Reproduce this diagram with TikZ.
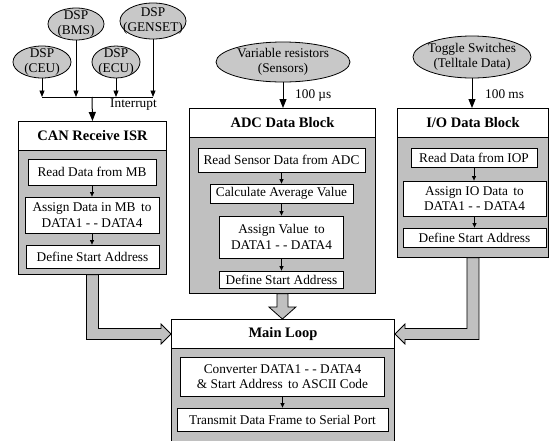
\documentclass[tikz,border=0pt]{standalone}
\usepackage{fontspec}
\setmainfont{Liberation Serif}
\usetikzlibrary{arrows.meta,calc,shapes.geometric}
\definecolor{bodygray}{RGB}{192,192,192}
\definecolor{ellgray}{RGB}{200,200,200}
\newcommand{\txtfont}{\fontsize{13.3}{15.5}\selectfont}
\newcommand{\ttlfont}{\fontsize{14.5}{16}\selectfont\bfseries}
\begin{document}
\begin{tikzpicture}[x=1pt,y=-1pt,
  box/.style={draw, fill=white, line width=0.8pt, inner sep=0pt, align=center, font=\txtfont},
  ttlbox/.style={draw, fill=white, line width=1pt, inner sep=0pt, align=center, font=\ttlfont, anchor=north west},
  body/.style={draw, fill=bodygray, line width=0.8pt, inner sep=0pt, anchor=north west},
  ell/.style={draw, ellipse, fill=ellgray, line width=0.8pt, inner sep=0pt},
  lbl/.style={font=\txtfont, inner sep=0pt, align=center},
  bigarr/.style={line width=1pt, -{Triangle[length=9pt,width=7pt]}},
  midarr/.style={line width=0.8pt, -{Triangle[length=6.5pt,width=5pt]}},
  smallarr/.style={line width=0.7pt, -{Triangle[length=4.5pt,width=4pt]}},
  garrow/.style={draw, fill=bodygray, line width=0.8pt, line join=miter},
]
\clip (0,0) rectangle (552,440);

% ---------- DSP ellipses ----------
\node[ell, minimum width=58pt, minimum height=32pt] (ceu) at (42,62) {};
\node[lbl] (ceut) at (ceu) {DSP\\(CEU)};
\node[ell, minimum width=56pt, minimum height=32pt] (bms) at (76,24) {};
\node[lbl] (bmst) at (bms) {DSP\\(BMS)};
\node[ell, minimum width=48pt, minimum height=32pt] (ecu) at (116,62) {};
\node[lbl] (ecut) at (ecu) {DSP\\(ECU)};
\node[ell, minimum width=66pt, minimum height=36pt] (genset) at (153,21) {};
\node[lbl] (gensett) at (genset) {DSP\\(GENSET)};

\coordinate (busj) at (92,97);
\draw[line width=0.8pt] (ceu.south |- busj) -- (genset.south |- busj);
\draw[midarr] (ceu.south) -- (ceu.south |- busj);
\draw[midarr] (bms.south) -- (bms.south |- busj);
\draw[midarr] (ecu.south) -- (ecu.south |- busj);
\draw[midarr] (genset.south) -- (genset.south |- busj);

% ---------- CAN Receive ISR ----------
\node[ttlbox, minimum width=148pt, minimum height=29pt] (cantitle) at (18,121) {CAN Receive ISR};
\node[body, minimum width=148pt, minimum height=124pt] (canbody) at (18,150) {};
\node[box, minimum width=128pt, minimum height=26pt] (canread) at (92,172) {Read Data from MB};
\node[box, minimum width=134pt, minimum height=36pt] (canassign) at (92,215) {Assign Data in MB\, to\\DATA1 - - DATA4};
\node[box, minimum width=133pt, minimum height=23pt] (candef) at (92.5,256.5) {Define Start Address};
\draw[smallarr] (canread.south) -- (canread.south |- canassign.north);
\draw[smallarr] (canassign.south) -- (canassign.south |- candef.north);

\draw[bigarr] (busj) -- (cantitle.north);
\node[lbl, anchor=west] (intlbl) at (110,105) {Interrupt};

% ---------- ADC Data Block ----------
\node[ell, minimum width=134pt, minimum height=40pt] (varres) at (283,62) {};
\node[lbl] (varrest) at (varres) {Variable resistors\\(Sensors)};
\node[ttlbox, minimum width=186pt, minimum height=29pt] (adctitle) at (189,108) {ADC Data Block};
\node[body, minimum width=186pt, minimum height=156pt] (adcbody) at (189,137) {};
\node[box, minimum width=167pt, minimum height=24pt] (adcread) at (281.5,160) {Read Sensor Data from ADC};
\node[box, minimum width=143pt, minimum height=19pt] (adccalc) at (281.5,193.5) {Calculate Average Value};
\node[box, minimum width=124pt, minimum height=42pt] (adcassign) at (281.5,237) {Assign Value\, to\\DATA1 - - DATA4};
\node[box, minimum width=124pt, minimum height=17pt] (adcdef) at (281.5,279.5) {Define Start Address};
\draw[smallarr] (adcread.south) -- (adcread.south |- adccalc.north);
\draw[smallarr] (adccalc.south) -- (adccalc.south |- adcassign.north);
\draw[smallarr] (adcassign.south) -- (adcassign.south |- adcdef.north);
\draw[bigarr] (varres.south) -- (varres.south |- adctitle.north);
\node[lbl, anchor=west] (uslbl) at (295,95) {100 µs};

% ---------- I/O Data Block ----------
\node[ell, minimum width=118pt, minimum height=42pt] (toggle) at (472,57) {};
\node[lbl] (togglet) at (toggle) {Toggle Switches\\(Telltale Data)};
\node[ttlbox, minimum width=151pt, minimum height=29pt] (iotitle) at (397,108) {I/O Data Block};
\node[body, minimum width=151pt, minimum height=120pt] (iobody) at (397,137) {};
\node[box, minimum width=126pt, minimum height=19pt] (ioread) at (474,158) {Read Data from IOP};
\node[box, minimum width=143pt, minimum height=35pt] (ioassign) at (474.5,198.5) {Assign IO Data\, to\\DATA1 - - DATA4};
\node[box, minimum width=143pt, minimum height=19pt] (iodef) at (474.5,237.5) {Define Start Address};
\draw[smallarr] (ioread.south) -- (ioread.south |- ioassign.north);
\draw[smallarr] (ioassign.south) -- (ioassign.south |- iodef.north);
\draw[bigarr] (toggle.south) -- (toggle.south |- iotitle.north);
\node[lbl, anchor=west] (mslbl) at (485,94) {100 ms};

% ---------- Main Loop ----------
\node[ttlbox, minimum width=223pt, minimum height=29pt] (maintitle) at (171,319) {Main Loop};
\node[body, minimum width=223pt, minimum height=100pt] (mainbody) at (171,348) {};
\node[box, minimum width=204pt, minimum height=39pt] (mainconv) at (282.5,376.5) {Converter DATA1 - - DATA4\\\& Start Address\, to ASCII Code};
\node[box, minimum width=211pt, minimum height=23pt] (maintx) at (282.5,419.5) {Transmit Data Frame to Serial Port};
\draw[smallarr] (mainconv.south) -- (mainconv.south |- maintx.north);

% ---------- gray block arrows ----------
\coordinate (L) at (canbody.south);
\coordinate (T) at (maintitle.west);
\coordinate (LT) at (L |- T);
\filldraw[garrow] ($(L)+(-6,0)$) -- ($(LT)+(-6,5.5)$) -- ($(T)+(-10,5.5)$) -- ($(T)+(-10,10)$) -- (T)
  -- ($(T)+(-10,-10)$) -- ($(T)+(-10,-5.5)$) -- ($(LT)+(6,-5.5)$) -- ($(L)+(6,0)$) -- cycle;

\coordinate (R) at (iobody.south);
\coordinate (T2) at (maintitle.east);
\coordinate (RT) at (R |- T2);
\filldraw[garrow] ($(R)+(6,0)$) -- ($(RT)+(6,5.5)$) -- ($(T2)+(10,5.5)$) -- ($(T2)+(10,10)$) -- (T2)
  -- ($(T2)+(10,-10)$) -- ($(T2)+(10,-5.5)$) -- ($(RT)+(-6,-5.5)$) -- ($(R)+(-6,0)$) -- cycle;

\coordinate (A) at (adcbody.south);
\coordinate (B) at (maintitle.north);
\coordinate (AB) at (A |- B);
\filldraw[garrow] ($(A)+(-5.5,0)$) -- ($(AB)+(-5.5,-12)$) -- ($(AB)+(-13.5,-12)$) -- (AB)
  -- ($(AB)+(13.5,-12)$) -- ($(AB)+(5.5,-12)$) -- ($(A)+(5.5,0)$) -- cycle;
\end{tikzpicture}
\end{document}
